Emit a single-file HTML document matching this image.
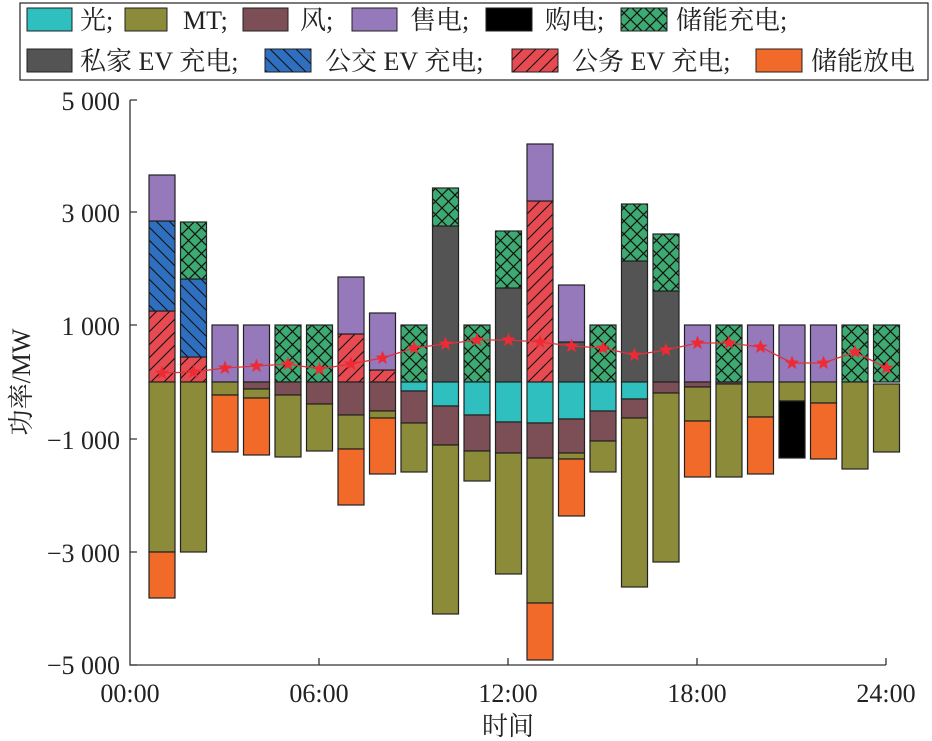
<!DOCTYPE html>
<html><head><meta charset="utf-8"><style>
html,body{margin:0;padding:0;background:#fff;}
svg{display:block;}
text{font-family:"Liberation Serif","Noto Serif CJK SC",serif;fill:#222;}
</style></head><body>
<svg width="932" height="741" viewBox="0 0 932 741" xmlns="http://www.w3.org/2000/svg">
<defs>
<pattern id="px" width="13" height="13" patternUnits="userSpaceOnUse">
<rect width="13" height="13" fill="#3daa72"/>
<path d="M0 0L13 13M13 0L0 13" stroke="#111" stroke-width="1.2"/>
</pattern>
<pattern id="pb" width="13" height="13" patternUnits="userSpaceOnUse">
<rect width="13" height="13" fill="#2e6fbf"/>
<path d="M0 0L13 13M-6.5 6.5L6.5 19.5M6.5 -6.5L19.5 6.5" stroke="#111" stroke-width="1.1"/>
</pattern>
<pattern id="pr" width="13" height="13" patternUnits="userSpaceOnUse">
<rect width="13" height="13" fill="#e84a52"/>
<path d="M0 13L13 0M-6.5 6.5L6.5 -6.5M6.5 19.5L19.5 6.5" stroke="#111" stroke-width="1.1"/>
</pattern>
</defs>

<!-- legend -->
<rect x="20" y="3" width="908" height="77" fill="#fff" stroke="#222" stroke-width="1.2"/>
<g stroke="#222" stroke-width="1">
<rect x="27" y="8" width="45" height="23" fill="#2fbfbf"/>
<rect x="125" y="8" width="42" height="23" fill="#8b8b3a"/>
<rect x="243" y="8" width="45" height="23" fill="#7b4f55"/>
<rect x="352" y="8" width="45" height="23" fill="#9579bb"/>
<rect x="486" y="8" width="46" height="23" fill="#000"/>
<rect x="621" y="8" width="46" height="23" fill="url(#px)"/>
<rect x="27" y="49" width="45" height="23" fill="#545454"/>
<rect x="265" y="49" width="46" height="23" fill="url(#pb)"/>
<rect x="512" y="49" width="46" height="23" fill="url(#pr)"/>
<rect x="756" y="49" width="46" height="23" fill="#f26a2a"/>
</g>
<g font-size="26">
<text x="80" y="29">光;</text>
<text x="183" y="29">MT;</text>
<text x="300" y="29">风;</text>
<text x="410" y="29">售电;</text>
<text x="545" y="29">购电;</text>
<text x="676" y="29">储能充电;</text>
<text x="80" y="70">私家 EV 充电;</text>
<text x="325" y="70">公交 EV 充电;</text>
<text x="572" y="70">公务 EV 充电;</text>
<text x="811" y="70">储能放电</text>
</g>

<!-- axes -->
<g stroke="#333" stroke-width="1.3" fill="none">
<path d="M130 100V665H886"/>
<path d="M130 100h7M130 212h7M130 325h7M130 439h7M130 552h7M130 665h7"/>
<path d="M319 665v-7M508 665v-7M697 665v-7M886 665v-7"/>
</g>
<g font-size="26" text-anchor="end">
<text x="120" y="110">5 000</text>
<text x="120" y="222">3 000</text>
<text x="120" y="335">1 000</text>
<text x="120" y="449">−1 000</text>
<text x="120" y="562">−3 000</text>
<text x="120" y="674">−5 000</text>
</g>
<g font-size="26" text-anchor="middle">
<text x="130" y="702">00:00</text>
<text x="319" y="702">06:00</text>
<text x="508" y="702">12:00</text>
<text x="697" y="702">18:00</text>
<text x="886" y="702">24:00</text>
<text x="508" y="735">时间</text>
<text transform="translate(30 382) rotate(-90)">功率/MW</text>
</g>

<g id="bars" stroke="#222" stroke-width="1.2"></g>
<g id="line"></g>
</svg>
<script>
var C={c:"#2fbfbf",o:"#8b8b3a",w:"#7b4f55",p:"#9579bb",k:"#000",g:"url(#px)",d:"#545454",b:"url(#pb)",r:"url(#pr)",f:"#f26a2a"};
// segments [type, y1, y2]
var B=[
[["r",311,382],["b",221,311],["p",175,221],["o",382,552],["f",552,598]],
[["r",357,382],["b",279,357],["g",222,279],["o",382,552]],
[["p",325,382],["o",382,395],["f",395,452]],
[["p",325,382],["w",382,389],["o",389,398],["f",398,455]],
[["g",325,382],["w",382,395],["o",395,457]],
[["g",325,382],["w",382,404],["o",404,451]],
[["r",334,382],["p",277,334],["w",382,415],["o",415,449],["f",449,505]],
[["r",370,382],["p",313,370],["w",382,411],["o",411,418],["f",418,474]],
[["g",325,382],["c",382,391],["w",391,423],["o",423,472]],
[["d",226,382],["g",188,226],["c",382,406],["w",406,445],["o",445,614]],
[["g",325,382],["c",382,415],["w",415,451],["o",451,481]],
[["d",288,382],["g",231,288],["c",382,422],["w",422,453],["o",453,574]],
[["r",201,382],["p",144,201],["c",382,423],["w",423,458],["o",458,603],["f",603,660]],
[["d",342,382],["p",285,342],["c",382,419],["w",419,453],["o",453,459],["f",459,516]],
[["g",325,382],["c",382,411],["w",411,441],["o",441,472]],
[["d",261,382],["g",204,261],["c",382,399],["w",399,418],["o",418,587]],
[["d",291,382],["g",234,291],["w",382,393],["o",393,562]],
[["p",325,382],["w",382,387],["o",387,421],["f",421,477]],
[["g",325,382],["w",382,384],["o",384,477]],
[["p",325,382],["o",382,417],["f",417,474]],
[["p",325,382],["o",382,401],["k",401,458]],
[["p",325,382],["o",382,403],["f",403,459]],
[["g",325,382],["o",382,469]],
[["g",325,382],["o",384,452]]
];
var ys=[373,372,368,366,364,369,364,358,348,344,340,340,342,346,348,355,350,343,343,347,363,363,352,368];
var ns="http://www.w3.org/2000/svg",g=document.getElementById("bars"),L=document.getElementById("line");
B.forEach(function(s,i){var x=149+i*31.5;s.forEach(function(t){var r=document.createElementNS(ns,"rect");r.setAttribute("x",x);r.setAttribute("y",t[1]);r.setAttribute("width",26);r.setAttribute("height",t[2]-t[1]);r.setAttribute("fill",C[t[0]]);g.appendChild(r);});});
var pts=ys.map(function(y,i){return (162+i*31.5)+","+y;}).join(" ");
var pl=document.createElementNS(ns,"polyline");pl.setAttribute("points",pts);pl.setAttribute("fill","none");pl.setAttribute("stroke","#e0303a");pl.setAttribute("stroke-width","1.3");L.appendChild(pl);
function star(cx,cy,R){var p=[];for(var k=0;k<10;k++){var a=-Math.PI/2+k*Math.PI/5,r=k%2?R*0.42:R;p.push((cx+r*Math.cos(a)).toFixed(1)+","+(cy+r*Math.sin(a)).toFixed(1));}return p.join(" ");}
ys.forEach(function(y,i){var s=document.createElementNS(ns,"polygon");s.setAttribute("points",star(162+i*31.5,y,7.5));s.setAttribute("fill","#ee2a35");L.appendChild(s);});
</script>
</body></html>
